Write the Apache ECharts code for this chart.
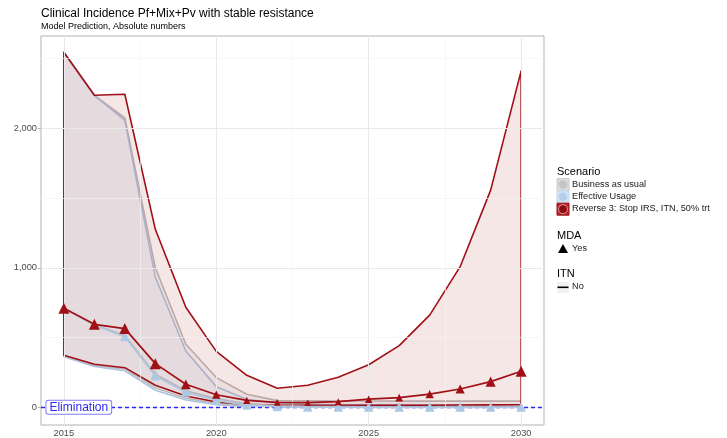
<!DOCTYPE html>
<html>
<head>
<meta charset="utf-8">
<script src="https://cdn.jsdelivr.net/npm/echarts@6/dist/echarts.min.js"></script>
<style>
html, body { margin: 0; padding: 0; background: #ffffff; }
#chart { width: 727px; height: 438px; }
</style>
</head>
<body>
<div id="chart"></div>
<script>
// Simulation years
const years = [2015, 2016, 2017, 2018, 2019, 2020, 2021, 2022, 2023, 2024, 2025, 2026, 2027, 2028, 2029, 2030];

// Business as usual: uncertainty band and median
const bauLower  = [370, 300, 275, 140, 65, 28, 12, 6, 4, 3, 3, 3, 3, 3, 3, 3];
const bauUpper  = [2545, 2237, 2074, 1000, 452, 213, 93, 48, 46, 45, 45, 44, 44, 44, 44, 44];
const bauMedian = [710, 592, 515, 236, 118, 62, 25, 10, 6, 5, 4, 4, 4, 4, 4, 4];

// Effective usage: uncertainty band and median
const effLower  = [362, 292, 262, 122, 52, 18, 5, 1, 0, 0, 0, 0, 0, 0, 0, 0];
const effUpper  = [2545, 2237, 2057, 932, 404, 148, 57, 29, 22, 20, 19, 19, 18, 18, 18, 18];
const effMedian = [710, 590, 505, 225, 108, 50, 15, 3, 1, 1, 0, 0, 0, 0, 0, 0];

// Reverse 3 (stop IRS, ITN, 50% treatment): uncertainty band and median
const revLower  = [373, 308, 284, 158, 81, 38, 21, 15, 14, 14, 14, 15, 15, 16, 17, 18];
const revUpper  = [2545, 2237, 2244, 1276, 717, 401, 229, 136, 158, 215, 305, 442, 661, 1008, 1557, 2412];
const revMedian = [710, 595, 564, 313, 165, 90, 50, 35, 33, 40, 58, 69, 94, 131, 184, 258];

// Axis ticks
const xTicks = [2015, 2020, 2025, 2030];
const xMinorTicks = [2017.5, 2022.5, 2027.5];
const yTicks = [0, 1000, 2000];
const yMinorTicks = [500, 1500, 2500];
const eliminationLevel = 0;

const FONT = 'Liberation Sans, Arial, Helvetica, sans-serif';
const RED = '#a01016';

function pairs(values) {
  return years.map((y, i) => [y, values[i]]);
}

// Ribbon drawn as one closed polygon through the axis scales
function bandSeries(name, lower, upper, fill, stroke, z) {
  const data = years.map((y, i) => [y, lower[i], upper[i]]);
  return {
    type: 'custom',
    name: name,
    z: z,
    clip: true,
    silent: true,
    data: data,
    encode: { x: 0, y: [1, 2] },
    renderItem: function (params, api) {
      if (params.dataIndex !== 0) return null;
      const top = data.map(d => api.coord([d[0], d[2]]));
      const bottom = data.slice().reverse().map(d => api.coord([d[0], d[1]]));
      return {
        type: 'polygon',
        shape: { points: top.concat(bottom) },
        style: { fill: fill, stroke: stroke, lineWidth: 1.6, lineJoin: 'round' }
      };
    }
  };
}

function medianSeries(name, values, color, symColor, sizeFn, z) {
  return {
    type: 'line',
    name: name,
    z: z,
    data: pairs(values),
    symbol: 'triangle',
    symbolSize: sizeFn,
    showSymbol: true,
    silent: true,
    clip: true,
    lineStyle: { color: color, width: 1.7 },
    itemStyle: { color: symColor, borderWidth: 0 }
  };
}

const chart = echarts.init(document.getElementById('chart'), null, { renderer: 'canvas' });

const gridLineMajor = { color: '#e9e9e9', width: 1, type: 'solid' };
const gridLineMinor = { color: '#f4f4f4', width: 0.7, type: 'solid' };

const option = {
  animation: false,
  backgroundColor: '#ffffff',
  textStyle: { fontFamily: FONT },
  title: {
    left: 41, top: 7, padding: 0, itemGap: 1,
    text: 'Clinical Incidence Pf+Mix+Pv with stable resistance',
    subtext: 'Model Prediction, Absolute numbers',
    textStyle: { fontFamily: FONT, fontSize: 12, fontWeight: 'normal', color: '#000000', lineHeight: 14 },
    subtextStyle: { fontFamily: FONT, fontSize: 9, color: '#000000', lineHeight: 10 }
  },
  grid: {
    left: 41, top: 36, width: 503, height: 389,
    show: true, borderColor: '#b3b3b3', borderWidth: 1, backgroundColor: 'transparent'
  },
  xAxis: {
    type: 'value', min: 2014.25, max: 2030.75,
    axisLine: { show: false },
    splitLine: { show: false },
    axisTick: { show: true, customValues: xTicks, length: 3, lineStyle: { color: '#b3b3b3' } },
    axisLabel: { show: true, customValues: xTicks, fontFamily: FONT, fontSize: 9.3, color: '#4d4d4d', margin: 4,
      formatter: v => String(v) }
  },
  yAxis: {
    type: 'value', min: -127, max: 2662,
    axisLine: { show: false },
    splitLine: { show: false },
    axisTick: { show: true, customValues: yTicks, length: 3, lineStyle: { color: '#b3b3b3' } },
    axisLabel: { show: true, customValues: yTicks, fontFamily: FONT, fontSize: 9.3, color: '#4d4d4d', margin: 4,
      formatter: v => v.toLocaleString('en-US') }
  },
  series: [
    // panel grid lines
    {
      type: 'line', name: 'grid', data: [], z: 0, silent: true,
      markLine: {
        silent: true, symbol: 'none', animation: false, label: { show: false },
        data: []
          .concat(yMinorTicks.map(v => ({ yAxis: v, lineStyle: gridLineMinor })))
          .concat(xMinorTicks.map(v => ({ xAxis: v, lineStyle: gridLineMinor })))
          .concat(yTicks.map(v => ({ yAxis: v, lineStyle: gridLineMajor })))
          .concat(xTicks.map(v => ({ xAxis: v, lineStyle: gridLineMajor })))
      }
    },
    bandSeries('Business as usual band', bauLower, bauUpper, 'rgba(190,190,190,0.12)', '#bdb8b8', 1),
    bandSeries('Effective Usage band', effLower, effUpper, 'rgba(166,198,228,0.12)', '#aec3dc', 2),
    bandSeries('Reverse 3 band', revLower, revUpper, 'rgba(165,15,21,0.10)', RED, 3),
    medianSeries('Business as usual', bauMedian, '#b9b4b6', 'rgba(185,185,190,0.95)', 9, 4),
    medianSeries('Effective Usage', effMedian, '#b2c8e0', 'rgba(170,200,230,0.95)', 9, 5),
    medianSeries('Reverse 3: Stop IRS, ITN, 50% trt', revMedian, RED, RED,
      function (v) {
        const y = Array.isArray(v) ? v[1] : v;
        return Math.max(5, Math.min(11, 4 + 0.45 * Math.sqrt(Math.max(y, 0))));
      }, 6),
    // elimination threshold
    {
      type: 'line', name: 'Elimination', data: [], z: 8, silent: true,
      markLine: {
        silent: true, symbol: 'none', animation: false,
        label: { show: false },
        lineStyle: { color: '#2a2af0', width: 1.3, type: [4, 3] },
        data: [{ yAxis: eliminationLevel }]
      },
      markPoint: {
        silent: true, animation: false,
        symbol: 'rect', symbolSize: 1,
        itemStyle: { color: 'rgba(0,0,0,0)' },
        label: {
          show: true, position: 'inside', formatter: 'Elimination',
          fontFamily: FONT, fontSize: 12, color: '#2a2af0', lineHeight: 12,
          backgroundColor: '#ffffff', borderColor: '#7d7df5', borderWidth: 1, borderRadius: 2,
          padding: [1, 3, 0, 3]
        },
        data: [{ coord: [2015.49, eliminationLevel] }]
      }
    }
  ],
  graphic: [
    { type: 'text', left: 557, top: 166, style: { text: 'Scenario', font: '11px ' + FONT, fill: '#000000' } },
    // Business as usual key
    { type: 'rect', shape: { x: 557, y: 178.5, width: 12, height: 12 }, style: { fill: '#dcdcdc', stroke: '#cccccc', lineWidth: 1 } },
    { type: 'circle', shape: { cx: 563, cy: 184.5, r: 4.5 }, style: { fill: '#c4c4c4', stroke: '#d6d6d6', lineWidth: 1 } },
    { type: 'text', left: 572, top: 179.5, style: { text: 'Business as usual', font: '9.2px ' + FONT, fill: '#1a1a1a' } },
    // Effective usage key
    { type: 'rect', shape: { x: 557, y: 190.8, width: 12, height: 12 }, style: { fill: '#d3e3f2', stroke: '#c3d7ea', lineWidth: 1 } },
    { type: 'circle', shape: { cx: 563, cy: 196.8, r: 4.5 }, style: { fill: '#b3cfea', stroke: '#cfe0f0', lineWidth: 1 } },
    { type: 'text', left: 572, top: 191.8, style: { text: 'Effective Usage', font: '9.2px ' + FONT, fill: '#1a1a1a' } },
    // Reverse 3 key
    { type: 'rect', shape: { x: 557, y: 203.2, width: 12, height: 12 }, style: { fill: '#b8262c', stroke: RED, lineWidth: 1 } },
    { type: 'circle', shape: { cx: 563, cy: 209.2, r: 4.5 }, style: { fill: '#8f0c12', stroke: '#e4b8ba', lineWidth: 0.8 } },
    { type: 'text', left: 572, top: 204.2, style: { text: 'Reverse 3: Stop IRS, ITN, 50% trt', font: '9.2px ' + FONT, fill: '#1a1a1a' } },
    // MDA
    { type: 'text', left: 557, top: 230, style: { text: 'MDA', font: '11px ' + FONT, fill: '#000000' } },
    { type: 'polygon', shape: { points: [[563, 244], [568, 253], [558, 253]] }, style: { fill: '#000000' } },
    { type: 'text', left: 572, top: 243.5, style: { text: 'Yes', font: '9.2px ' + FONT, fill: '#1a1a1a' } },
    // ITN
    { type: 'text', left: 557, top: 268, style: { text: 'ITN', font: '11px ' + FONT, fill: '#000000' } },
    { type: 'rect', shape: { x: 557, y: 282, width: 12, height: 11 }, style: { fill: '#f2f2f2' } },
    { type: 'line', shape: { x1: 557.5, y1: 287.3, x2: 568.5, y2: 287.3 }, style: { stroke: '#000000', lineWidth: 1.6 } },
    { type: 'text', left: 572, top: 282.3, style: { text: 'No', font: '9.2px ' + FONT, fill: '#1a1a1a' } }
  ]
};

chart.setOption(option);
</script>
</body>
</html>
